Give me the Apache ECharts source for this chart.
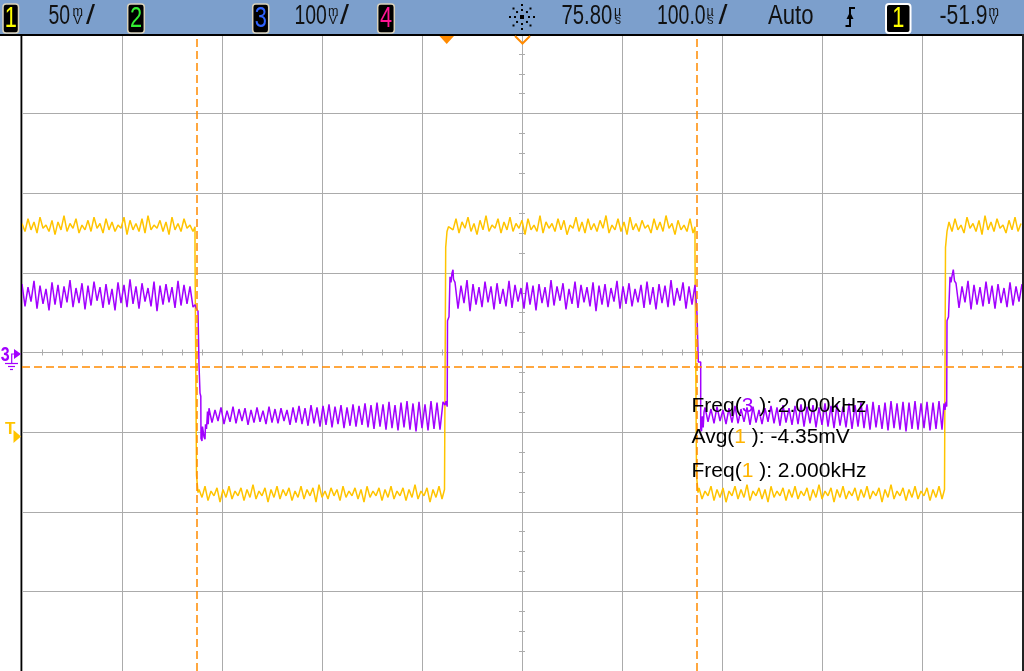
<!DOCTYPE html>
<html><head><meta charset="utf-8">
<script src="https://cdn.jsdelivr.net/npm/echarts@6/dist/echarts.min.js"></script>
<style>html,body{margin:0;padding:0;background:#fff;}#c{width:1024px;height:671px;}</style>
</head><body><div id="c"></div>
<script>
// ---- time base: µs relative to screen centre, sampled every STEP µs ----
const STEP = 3;
// ---- Channel 1 (yellow, mV) ----
const ch1Starts = [-500, -323, -72, 177, 427];
const ch1High1 = [81,76,84,77,82,75,85,78,80,76,83,74,82,77,86,76,81,78,84,75,80,77,83,76,85,78,81,75,84,77,82,76,80,78,85,74,83,77,81,76,84,75,86,77,80,78,83,76,82,74,85,77,81,76,84,78,80,76];
const ch1Fall1 = [[-327,79],[-327,62],[-325.5,62],[-325.5,-77],[-324.5,-77],[-324,-88]];
const ch1Low1 = [-86,-91,-84,-93,-87,-90,-85,-94,-86,-91,-84,-92,-87,-90,-85,-93,-86,-91,-83,-92,-87,-90,-85,-94,-86,-91,-84,-92,-86,-90,-85,-93,-87,-91,-84,-92,-86,-90,-85,-94,-83,-91,-87,-92,-85,-90,-86,-93,-84,-91,-87,-90,-85,-92,-86,-94,-84,-91,-87,-90,-85,-93,-86,-91,-84,-92,-87,-90,-85,-93,-86,-91,-83,-92,-87,-90,-85,-94,-86,-91,-84,-92];
const ch1Rise1 = [[-77.5,-86],[-76.3,-86],[-76.3,66],[-75,66],[-75,76],[-73.5,79]];
const ch1High2 = [80,77,84,75,82,78,85,76,81,74,83,77,86,76,80,78,84,75,82,77,85,76,81,78,83,74,84,77,80,76,86,75,82,78,81,76,84,77,83,74,80,78,85,76,82,75,84,77,81,76,83,78,86,75,80,77,84,76,82,74,85,77,81,76,83,78,80,75,84,77,82,76,86,78,81,74,83,77,80,76,84,75];
const ch1Fall2 = [[173,79],[173,62],[174.5,62],[174.5,-77],[175.5,-77],[176,-88]];
const ch1Low2 = [-85,-92,-87,-90,-84,-93,-86,-91,-85,-94,-87,-90,-84,-92,-86,-91,-83,-93,-87,-90,-85,-92,-86,-94,-84,-91,-87,-90,-85,-93,-86,-91,-84,-92,-87,-90,-85,-93,-86,-91,-83,-92,-87,-90,-85,-94,-86,-91,-84,-92,-87,-90,-85,-93,-86,-91,-84,-92,-87,-90,-85,-94,-86,-91,-83,-92,-87,-90,-85,-93,-86,-91,-84,-92,-87,-90,-85,-93,-86,-91,-84,-92];
const ch1Rise2 = [[422.5,-86],[423.5,-86],[423.5,66],[425,66],[425,76],[426,79]];
const ch1High3 = [82,76,84,77,80,75,85,78,81,76,83,74,86,77,82,76,84,78,80,75,83,77,85,76,81];
// ---- Channel 3 (purple, mV) ----
const ch3Starts = [-500, -313, -67, 183, 434];
const ch3High1 = [86,58,82,64,90,55,84,61,80,53,88,60,85,56,83,63,91,57,81,62,87,54,84,59,89,65,82,56,86,60,80,53,88,62,85,57,92,61,83,55,87,64,81,58,89,52,84,60,86,63,82,56,90,59,85,61,83,57];
const ch3Fall1 = [[-327,60],[-325.5,55],[-324,52],[-323,52],[-323,-15],[-322,-15],[-322,-51],[-321.2,-55],[-321,-108],[-320,-111],[-319.5,-93],[-318.5,-91],[-318,-106],[-317,-109],[-316.5,-90],[-315.5,-96],[-314.5,-74],[-313.8,-90]];
const ch3Low1 = [-70,-88,-72,-86,-69,-90,-73,-87,-68,-89,-71,-86,-70,-91,-72,-88,-69,-87,-73,-90,-68,-88,-71,-89,-70,-86,-72,-91,-69,-88,-67,-90,-70,-92,-66,-89,-69,-93,-67,-91,-65,-94,-68,-90,-66,-95,-69,-92,-65,-93,-67,-91,-64,-94,-66,-96,-63,-93,-65,-97,-62,-95,-66,-98,-63,-94,-61,-97,-64,-99,-62,-95,-65,-98,-61,-96,-63,-97,-62];
const ch3Rise1 = [[-77,-66],[-76,-61],[-74.8,-68],[-74.5,40],[-73,45],[-72.5,45],[-72,95],[-71,88],[-70,100],[-69,104],[-68.5,92]];
const ch3High2 = [88,55,84,62,91,52,86,60,82,57,89,63,83,54,87,61,80,58,90,56,85,64,81,55,88,60,84,53,86,62,82,57,91,59,83,65,87,54,80,61,89,56,85,63,82,58,88,52,84,60,86,57,81,64,90,55,83,61,87,58,80,63,85,56,89,60,82,54,86,62,84,57,91,59,81,65,88,55,83,60,85];
const ch3Fall2 = [[174.5,59],[175,49],[176.3,49],[176.3,-12],[178.7,-12],[178.7,-96],[179.5,-99],[180.3,-80],[181.2,-94],[182,-75]];
const ch3Low2 = [-69,-87,-71,-89,-68,-86,-72,-90,-70,-88,-67,-89,-71,-87,-69,-91,-68,-88,-72,-90,-70,-87,-67,-89,-69,-92,-66,-88,-70,-91,-67,-90,-65,-93,-68,-89,-66,-94,-69,-91,-64,-93,-67,-95,-65,-92,-68,-94,-64,-96,-66,-93,-63,-95,-65,-97,-62,-94,-66,-96,-63,-98,-61,-95,-64,-97,-62,-99,-63,-96,-61,-97,-64,-95,-62,-98,-63,-96,-61,-97];
const ch3Rise2 = [[422,-64],[423,-72],[424,-62],[424.7,-68],[425,40],[426.5,45],[427.5,45],[428,95],[429,88],[430,96],[431.3,104],[432.5,90]];
const ch3High3 = [87,56,83,63,90,54,85,60,82,58,89,61,84,55,86,62,81,57,88,59,83,64,86];
// ---- cursors ----
const cursorX = [-325.5, 174.5];   // µs
const cursorY1 = [-9];            // mV on ch1
// ---- measurement texts ----
const measRows = [['Freq(', '3', ' ): 2.000kHz'], ['Avg(', '1', ' ): -4.35mV'], ['Freq(', '1', ' ): 2.000kHz']];

const YEL = '#FFC400', PUR = '#A200FF', ORG = '#FF8A00', GRID = '#ABABAB';
function seg(start, vals) { return vals.map((v, i) => [start + i * STEP, v]); }
const ch1Data = [].concat(seg(ch1Starts[0], ch1High1), ch1Fall1, seg(ch1Starts[1], ch1Low1), ch1Rise1,
  seg(ch1Starts[2], ch1High2), ch1Fall2, seg(ch1Starts[3], ch1Low2), ch1Rise2, seg(ch1Starts[4], ch1High3));
const ch3Data = [].concat(seg(ch3Starts[0], ch3High1), ch3Fall1, seg(ch3Starts[1], ch3Low1), ch3Rise1,
  seg(ch3Starts[2], ch3High2), ch3Fall2, seg(ch3Starts[3], ch3Low2), ch3Rise2, seg(ch3Starts[4], ch3High3));

const FF = '"Liberation Sans", Arial, sans-serif';
function txt(x, y, s, size, color, sx, align, bold) {
  return { type: 'text', x: x, y: y, scaleX: sx || 1, z: 101, silent: true,
    style: { text: s, fill: color, font: (bold ? 'bold ' : '') + size + 'px ' + FF, textAlign: align || 'left', textVerticalAlign: 'middle' } };
}
function box(x, w, border, bw, digit, color) {
  return [{ type: 'rect', z: 100, silent: true, shape: { x: x, y: 4, width: w, height: 29, r: 3 }, style: { fill: '#000', stroke: border, lineWidth: bw } },
    txt(x + w / 2, 19, digit, 29, color, 0.75, 'center')];
}
function unit(x, a, b) {
  return [txt(x, 12, a, 14, '#111', 0.9), txt(x + 1, 21, b, 12, '#111', 1)];
}
const g = [];
g.push({ type: 'rect', z: 99, silent: true, shape: { x: 0, y: 0, width: 1024, height: 34 }, style: { fill: '#7C9FCC' } });
g.push({ type: 'rect', z: 99, silent: true, shape: { x: 0, y: 34, width: 1024, height: 2 }, style: { fill: '#000' } });
g.push({ type: 'rect', z: 99, silent: true, shape: { x: 20.5, y: 34, width: 1.5, height: 640 }, style: { fill: '#000' } });
g.push({ type: 'rect', z: 99, silent: true, shape: { x: 1022, y: 34, width: 2, height: 640 }, style: { fill: '#222' } });
g.push(...box(3, 15.5, '#D9D2BC', 1.5, '1', '#FFFF00'));
g.push(txt(48.5, 17, '50', 27, '#111', 0.72));
g.push(...unit(72.5, 'm', 'V'));
g.push(txt(86, 17, '/', 27, '#111', 1.2));
g.push(...box(127.7, 16.6, '#D9D2BC', 1.5, '2', '#33EE33'));
g.push(...box(252.7, 16, '#D9D2BC', 1.5, '3', '#2F63FF'));
g.push(txt(294.5, 17, '100', 27, '#111', 0.72));
g.push(...unit(328, 'm', 'V'));
g.push(txt(340, 17, '/', 27, '#111', 1.2));
g.push(...box(377.7, 16.6, '#D9D2BC', 1.5, '4', '#FF1493'));
// delay icon
g.push({ type: 'rect', z: 101, silent: true, shape: { x: 520, y: 15, width: 4, height: 4 }, style: { fill: '#000' } });
[0, 45, 90, 135, 180, 225, 270, 315].forEach(function (a) {
  [7, 12].forEach(function (r) {
    const rad = a * Math.PI / 180;
    g.push({ type: 'rect', z: 101, silent: true, shape: { x: 522 + r * Math.cos(rad) - 1, y: 17 + r * Math.sin(rad) - 1, width: 2, height: 2 }, style: { fill: '#000' } });
  });
});
g.push(txt(561.5, 17, '75.80', 27, '#111', 0.75));
g.push(...unit(614, 'µ', 's'));
g.push(txt(657, 17, '100.0', 27, '#111', 0.72));
g.push(...unit(706.5, 'µ', 's'));
g.push(txt(718.5, 17, '/', 27, '#111', 1.2));
g.push(txt(768, 17, 'Auto', 27, '#111', 0.82));
g.push({ type: 'polyline', z: 101, silent: true, shape: { points: [[845.5, 26], [850, 26], [850, 8], [855, 8]] }, style: { stroke: '#000', lineWidth: 2, fill: null } });
g.push({ type: 'polygon', z: 101, silent: true, shape: { points: [[846.5, 19], [853.5, 19], [850, 12]] }, style: { fill: '#000' } });
g.push(...box(886, 24.5, '#FFFFFF', 2, '1', '#FFFF00'));
g.push(txt(939.5, 17, '-51.9', 27, '#111', 0.78));
g.push(...unit(988.5, 'm', 'V'));
// top markers
g.push({ type: 'polygon', z: 101, silent: true, shape: { points: [[439.5, 36], [454, 36], [446.7, 44]] }, style: { fill: ORG } });
g.push({ type: 'polyline', z: 101, silent: true, shape: { points: [[515, 36], [522.5, 43.5], [530, 36]] }, style: { stroke: ORG, lineWidth: 2, fill: null } });
// channel 3 ground marker
g.push(txt(5.2, 355, '3', 20, PUR, 0.8, 'center', true));
g.push({ type: 'polygon', z: 101, silent: true, shape: { points: [[14, 349], [14, 359], [21, 354]] }, style: { fill: PUR } });
g.push({ type: 'polyline', z: 101, silent: true, shape: { points: [[14, 354], [11.7, 354], [11.7, 363.5]] }, style: { stroke: PUR, lineWidth: 1.2, fill: null } });
[[5, 18, 363.5], [8, 15, 366.5], [10, 13, 369.5]].forEach(function (l) {
  g.push({ type: 'line', z: 101, silent: true, shape: { x1: l[0], y1: l[2], x2: l[1], y2: l[2] }, style: { stroke: PUR, lineWidth: 1.2 } });
});
// trigger level marker
g.push(txt(10.3, 429.5, 'T', 17, YEL, 1, 'center', true));
g.push({ type: 'polygon', z: 101, silent: true, shape: { points: [[13.5, 430], [13.5, 443], [21, 436.5]] }, style: { fill: YEL } });
// measurements
const rowY = [406, 437, 471];
measRows.forEach(function (r, i) {
  g.push({ type: 'text', x: 691.5, y: rowY[i], z: 110, silent: true,
    style: { text: '{k|' + r[0] + '}{p|' + r[1] + '}{k|' + r[2] + '}', font: '21px ' + FF, textVerticalAlign: 'middle', fill: '#000',
      rich: { k: { fill: '#000', fontSize: 21, fontFamily: FF }, p: { fill: r[1] === '3' ? PUR : '#FFB400', fontSize: 21, fontFamily: FF } } } });
});

const tickCommon = {
  axisLabel: { show: false },
  axisLine: { show: true, onZero: true, lineStyle: { color: GRID, width: 1 } },
  axisTick: { show: true, length: 3, lineStyle: { color: GRID } },
  minorTick: { show: true, length: 3, lineStyle: { color: GRID } }
};
const chart = echarts.init(document.getElementById('c'), null, { renderer: 'canvas' });
chart.setOption({
  animation: false,
  backgroundColor: '#fff',
  grid: { left: 22, top: 34, width: 1000, height: 640, containLabel: false },
  xAxis: [
    Object.assign({ type: 'value', min: -500, max: 500, interval: 100, position: 'bottom',
      splitLine: { show: true, lineStyle: { color: GRID, width: 1 } } }, tickCommon, { minorTick: Object.assign({}, tickCommon.minorTick, { splitNumber: 5 }) }),
    Object.assign({ type: 'value', min: -500, max: 500, interval: 100, position: 'top',
      splitLine: { show: false } }, tickCommon, { minorTick: Object.assign({}, tickCommon.minorTick, { splitNumber: 5 }) })
  ],
  yAxis: [
    Object.assign({ type: 'value', min: -200, max: 200, interval: 50, position: 'left',
      splitLine: { show: true, lineStyle: { color: GRID, width: 1 } } }, tickCommon, { minorTick: Object.assign({}, tickCommon.minorTick, { splitNumber: 4 }) }),
    Object.assign({ type: 'value', min: -400, max: 400, interval: 100, position: 'right',
      splitLine: { show: false } }, tickCommon, { minorTick: Object.assign({}, tickCommon.minorTick, { splitNumber: 4 }) })
  ],
  series: [
    { name: 'CH1', type: 'line', xAxisIndex: 0, yAxisIndex: 0, data: ch1Data, showSymbol: false, symbol: 'none',
      lineStyle: { color: YEL, width: 1.5 }, z: 3 },
    { name: 'CH3', type: 'line', xAxisIndex: 0, yAxisIndex: 1, data: ch3Data, showSymbol: false, symbol: 'none',
      lineStyle: { color: PUR, width: 1.5 }, z: 4 },
    { name: 'cursors', type: 'line', xAxisIndex: 0, yAxisIndex: 0, data: [], z: 5,
      markLine: { silent: true, symbol: 'none', animation: false, label: { show: false },
        lineStyle: { color: ORG, type: [8, 4], width: 1.5 },
        data: cursorX.map(v => ({ xAxis: v })).concat(cursorY1.map(v => ({ yAxis: v }))) } }
  ],
  graphic: g
});
</script></body></html>
